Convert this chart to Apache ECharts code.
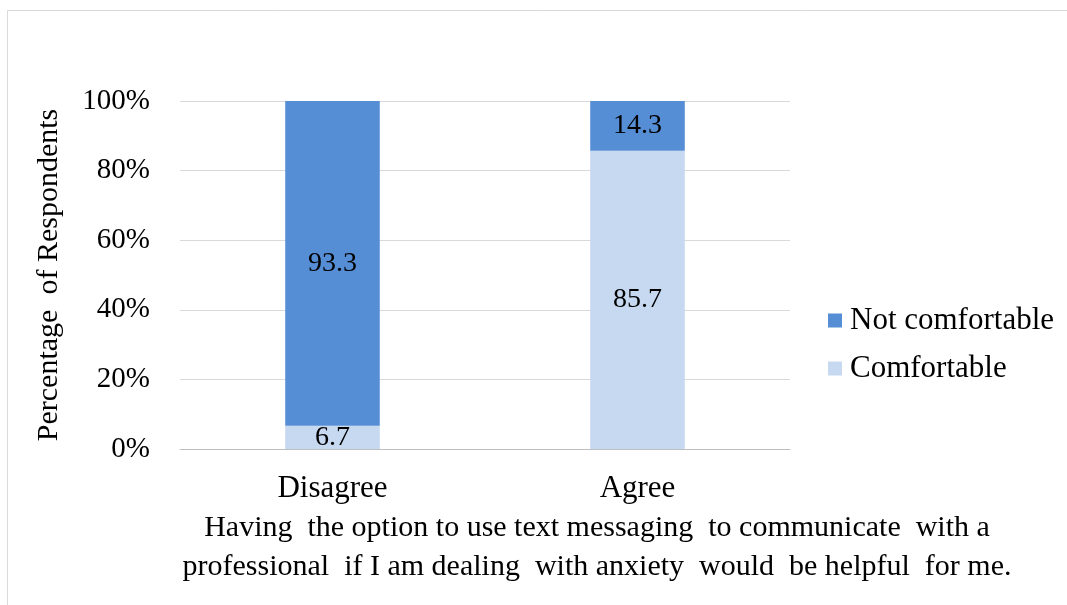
<!DOCTYPE html>
<html><head><meta charset="utf-8">
<script src="https://cdn.jsdelivr.net/npm/echarts@6/dist/echarts.min.js"></script>
<style>html,body{margin:0;padding:0;background:#fff}#c{width:1067px;height:605px}</style>
</head><body><div id="c"></div>
<script>
const categories = ['Disagree', 'Agree'];
const comfortable = [6.7, 85.7];
const notComfortable = [93.3, 14.3];
const yTicks = [0, 20, 40, 60, 80, 100];
const xTitleLines = ['Having  the option to use text messaging  to communicate  with a', 'professional  if I am dealing  with anxiety  would  be helpful  for me.'];
const yTitle = 'Percentage  of Respondents';

const font = 'Liberation Serif';
const chart = echarts.init(document.getElementById('c'));
chart.setOption({
  animation: false,
  textStyle: { fontFamily: font },
  graphic: [
    { type: 'rect', shape: { x: 7.5, y: 10.5, width: 1100, height: 700 }, style: { fill: 'none', stroke: '#D9D9D9', lineWidth: 1 }, z: -1 },
    { type: 'text', x: 597, y: 509, style: { text: xTitleLines.join('\n'), font: '30px "Liberation Serif"', fill: '#000', textAlign: 'center', textVerticalAlign: 'top', lineHeight: 39 } }
  ],
  grid: { left: 180, right: 277, top: 101, bottom: 156 },
  legend: {
    orient: 'vertical', left: 823, top: 300, itemGap: 17, itemWidth: 14, itemHeight: 14,
    icon: 'rect',
    textStyle: { fontFamily: font, fontSize: 31, color: '#000', padding: [0, 0, 0, 3] },
    data: ['Not comfortable', 'Comfortable']
  },
  xAxis: {
    type: 'category', data: categories,
    axisLine: { lineStyle: { color: '#BFBFBF' } },
    axisTick: { show: false },
    axisLabel: { fontFamily: font, fontSize: 31, color: '#000', margin: 24 }
  },
  yAxis: {
    type: 'value', min: 0, max: 100, interval: 20,
    name: yTitle, nameLocation: 'middle', nameGap: 116, nameRotate: 90,
    nameTextStyle: { fontFamily: font, fontSize: 30, color: '#000' },
    axisLine: { show: false }, axisTick: { show: false },
    splitLine: { lineStyle: { color: '#D9D9D9' } },
    axisLabel: { fontFamily: font, fontSize: 29, color: '#000', margin: 30, formatter: v => yTicks.includes(v) ? v + '%' : '' }
  },
  series: [
    { name: 'Comfortable', type: 'bar', stack: 's', data: comfortable, barWidth: '31%',
      itemStyle: { color: '#C6D9F1' },
      label: { show: true, position: 'inside', fontFamily: font, fontSize: 28, color: '#000', formatter: p => p.value.toFixed(1) } },
    { name: 'Not comfortable', type: 'bar', stack: 's', data: notComfortable, barWidth: '31%',
      itemStyle: { color: '#558ED5' },
      label: { show: true, position: 'inside', fontFamily: font, fontSize: 28, color: '#000', formatter: p => p.value.toFixed(1) } }
  ]
});
</script></body></html>
